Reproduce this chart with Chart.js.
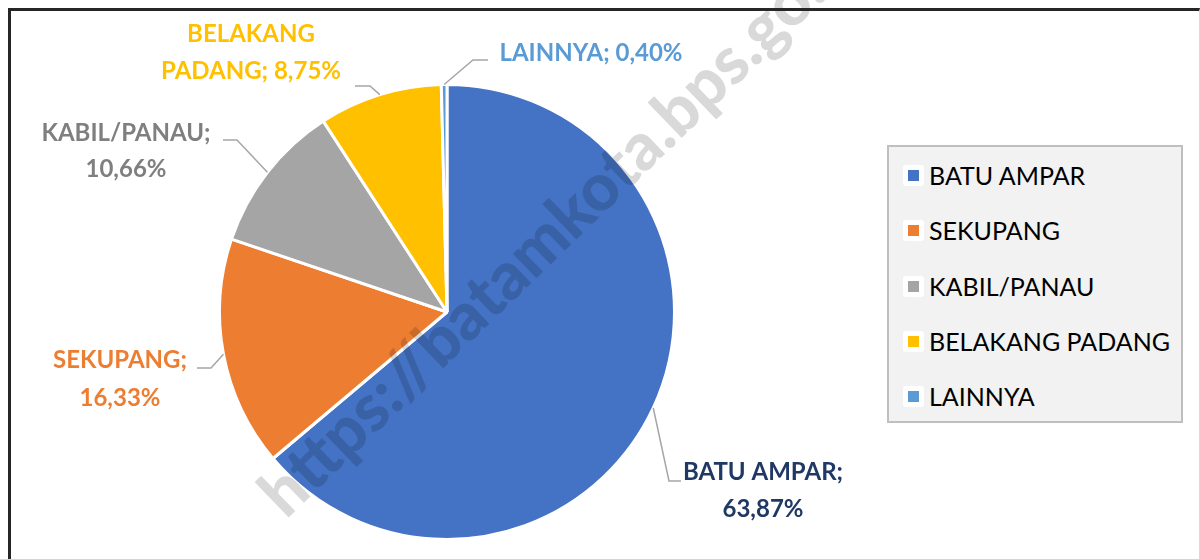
<!DOCTYPE html>
<html>
<head>
<meta charset="utf-8">
<script src="https://cdn.jsdelivr.net/npm/chart.js@4.4.0/dist/chart.umd.min.js"></script>
<style>
    html, body { margin: 0; padding: 0; background: #fff; overflow: hidden; }
    #wrap { position: relative; width: 1200px; height: 559px; }
    #frame {
        position: absolute; left: 8px; top: 8px; width: 1188px; height: 600px;
        border-left: 3px solid #262626; border-top: 3px solid #262626; border-right: 1px solid #d9d9d9;
    }
    #legend {
        position: absolute; left: 887px; top: 145px; width: 292px; height: 274px;
        background: #f2f2f2; border: 2px solid #bfbfbf;
        font-family: Lato, "Open Sans", sans-serif; font-size: 25px; color: #000;
    }
    .item { position: absolute; left: 14px; height: 30px; line-height: 30px; white-space: nowrap; }
    .mk { position: absolute; left: 0; top: 5px; width: 21px; height: 21px; background: #fff; border-radius: 3px; }
    .mk i { position: absolute; left: 5px; top: 5px; width: 11px; height: 11px; }
    .item span { position: absolute; left: 26px; top: 0; }
    canvas { position: absolute; left: 0; top: 0; }
</style>
</head>
<body>
<div id="wrap">
    <canvas id="pieChart" width="1200" height="559"></canvas>
    <div id="frame"></div>
    <div id="legend"></div>
</div>
<script>
// data
const categories = ['BATU AMPAR', 'SEKUPANG', 'KABIL/PANAU', 'BELAKANG PADANG', 'LAINNYA'];
const shares = [63.87, 16.33, 10.66, 8.75, 0.40];
const sliceColors = ['#4472C4', '#ED7D31', '#A5A5A5', '#FFC000', '#5B9BD5'];
const labelColors = ['#203864', '#ED7D31', '#7F7F7F', '#FFC000', '#5B9BD5'];

// where the data labels sit (text centre, leader elbow, leader end)
const labelLayout = [
    { mode: 'two',  x: 763, y: 471, lh: 37, elbow: [669, 481], end: [681, 481] },
    { mode: 'two',  x: 120, y: 359, lh: 38, elbow: [211, 368], end: [197, 368] },
    { mode: 'two',  x: 126, y: 132, lh: 36, elbow: [237, 140], end: [223, 140] },
    { mode: 'wrap', x: 251, y: 33,  lh: 37, elbow: [370, 86],  end: [355, 86] },
    { mode: 'one',  x: 591, y: 52,  lh: 37, elbow: [473, 60],  end: [488, 60] }
];

function fmt(v) {
    return v.toFixed(2).replace('.', ',') + '%';
}

function labelLines(i) {
    const name = categories[i];
    const pct = fmt(shares[i]);
    const mode = labelLayout[i].mode;
    if (mode === 'one') return [name + '; ' + pct];
    if (mode === 'wrap') {
        const parts = name.split(' ');
        return [parts[0], parts.slice(1).join(' ') + '; ' + pct];
    }
    return [name + ';', pct];
}

// watermark across the chart
const watermark = {
    id: 'watermark',
    afterDatasetsDraw(chart) {
        const ctx = chart.ctx;
        ctx.save();
        ctx.translate(286, 520);
        ctx.rotate(-44 * Math.PI / 180);
        ctx.font = '900 66px Lato, "Open Sans", sans-serif';
        ctx.fillStyle = 'rgba(0, 0, 0, 0.15)';
        ctx.textBaseline = 'alphabetic';
        ctx.fillText('https://batamkota.bps.go.id', 0, 0);
        ctx.restore();
    }
};

// data labels with leader lines
const pieLabels = {
    id: 'pieLabels',
    afterDraw(chart) {
        const ctx = chart.ctx;
        const arcs = chart.getDatasetMeta(0).data;
        ctx.save();
        arcs.forEach((arc, i) => {
            const p = arc.getProps(['x', 'y', 'startAngle', 'endAngle', 'outerRadius'], true);
            const mid = (p.startAngle + p.endAngle) / 2;
            const sx = p.x + Math.cos(mid) * p.outerRadius;
            const sy = p.y + Math.sin(mid) * p.outerRadius;
            const lay = labelLayout[i];

            ctx.strokeStyle = '#a6a6a6';
            ctx.lineWidth = 1.5;
            ctx.beginPath();
            ctx.moveTo(sx, sy);
            ctx.lineTo(lay.elbow[0], lay.elbow[1]);
            ctx.lineTo(lay.end[0], lay.end[1]);
            ctx.stroke();

            ctx.font = 'bold 24px Lato, "Open Sans", sans-serif';
            ctx.fillStyle = labelColors[i];
            ctx.textAlign = 'center';
            ctx.textBaseline = 'alphabetic';
            labelLines(i).forEach((t, k) => {
                ctx.fillText(t, lay.x, lay.y + 9 + k * lay.lh);
            });
        });
        ctx.restore();
    }
};

const ctx = document.getElementById('pieChart').getContext('2d');
new Chart(ctx, {
    type: 'pie',
    data: {
        labels: categories,
        datasets: [{
            data: shares,
            backgroundColor: sliceColors,
            borderColor: '#ffffff',
            borderWidth: 3
        }]
    },
    options: {
        responsive: false,
        animation: false,
        devicePixelRatio: 1,
        layout: { padding: { left: 218, right: 524, top: 83, bottom: 18 } },
        plugins: {
            legend: { display: false },
            tooltip: { enabled: false }
        }
    },
    plugins: [watermark, pieLabels]
});

// legend box
const legend = document.getElementById('legend');
const rowY = [13, 68, 124, 179, 234];
categories.forEach((c, i) => {
    const row = document.createElement('div');
    row.className = 'item';
    row.style.top = rowY[i] + 'px';
    row.innerHTML = '<div class="mk"><i style="background:' + sliceColors[i] + '"></i></div><span>' + c + '</span>';
    legend.appendChild(row);
});
</script>
</body>
</html>
